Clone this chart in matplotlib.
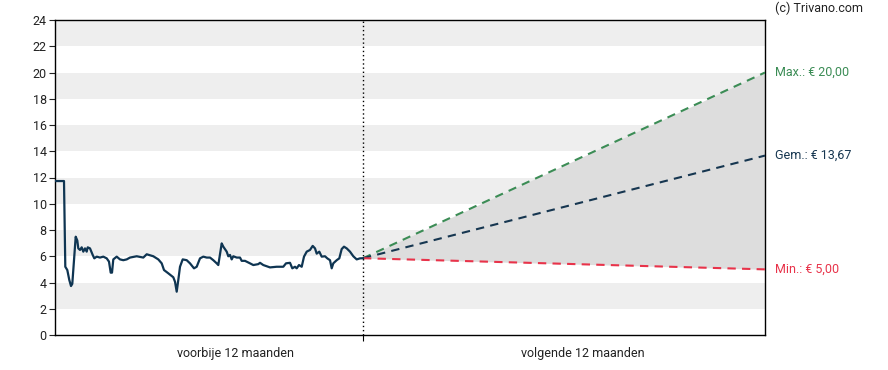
import numpy as np
import matplotlib.pyplot as plt

plt.rcParams['font.family'] = ['Roboto', 'DejaVu Sans']

# koers afgelopen 12 maanden: (positie, koers), positie 0 = begin van de grafiek
hist = [
    (1, 11.73), (9, 11.73), (10.3, 5.2), (12.3, 4.95), (14.3, 4.19), (16, 3.73),
    (17.3, 3.9), (20.7, 7.49), (22.3, 7.2), (23.3, 6.6), (25, 6.48), (26.7, 6.68),
    (28.3, 6.35), (30, 6.6), (31.7, 6.35), (32.7, 6.68), (35, 6.6), (37.7, 6.1),
    (39.3, 5.84), (41.7, 5.97), (45, 5.9), (48.3, 5.97), (51.7, 5.84), (54, 5.59),
    (55.7, 4.75), (57, 4.75), (58.3, 5.76), (61.7, 5.97), (65, 5.76), (68.3, 5.7),
    (71.7, 5.76), (75, 5.9), (81.7, 6.0), (88.3, 5.9), (91.7, 6.15), (98.3, 6.0),
    (103.3, 5.76), (106.7, 5.46), (109, 4.95), (113.3, 4.7), (118.3, 4.4), (120, 4.06),
    (121.7, 3.3), (123.3, 4.19), (125, 5.2), (127.7, 5.76), (131.7, 5.7), (135, 5.46),
    (139, 5.08), (141.7, 5.2), (145, 5.84), (148.3, 5.97), (151.7, 5.9), (155, 5.9),
    (158.3, 5.7), (161.7, 5.46), (163.3, 5.33), (166.7, 6.98), (168.3, 6.73),
    (171.7, 6.35), (173.3, 6.0), (175, 6.1), (176.7, 5.76), (178.3, 6.0), (181.7, 5.9),
    (185, 5.9), (186.7, 5.65), (190, 5.65), (195, 5.46), (198.3, 5.33), (203.3, 5.4),
    (205, 5.5), (208.3, 5.33), (215, 5.15), (221.7, 5.2), (228.3, 5.2), (231, 5.46),
    (235, 5.5), (237.3, 5.08), (240, 5.2), (241.7, 5.08), (244, 5.33), (246.7, 5.2),
    (249, 5.97), (251.7, 6.35), (255, 6.48), (257.7, 6.79), (260, 6.6), (261.7, 6.2),
    (264.3, 6.35), (266.7, 5.97), (270, 6.0), (272.3, 5.84), (275, 5.7), (276.7, 5.08),
    (278.3, 5.46), (281.7, 5.7), (284.3, 5.84), (286.7, 6.55), (289, 6.73), (291.7, 6.6),
    (295, 6.35), (298.3, 6.0), (301.7, 5.76), (305, 5.84), (308, 5.85),
]
hist_x = [p[0] for p in hist]
hist_y = [p[1] for p in hist]

# koersdoelen over 12 maanden
split_x = 308
end_x = 710
start_price = 5.85
target_max = 20.00
target_avg = 13.67
target_min = 5.00

period_labels = ["voorbije 12 maanden", "volgende 12 maanden"]
period_pos = [180, 528]

c_line = "#0f3552"
c_max = "#3b8c55"
c_avg = "#163650"
c_min = "#e8334a"

fig = plt.figure(figsize=(8.88, 3.70), dpi=100)
ax = fig.add_axes([55 / 888, 35 / 370, 710 / 888, 315 / 370])

# grijze banden
for lo in range(2, 24, 4):
    ax.axhspan(lo, lo + 2, color="#eeeeee", lw=0, zorder=0)

fx = [split_x, end_x]
ax.fill_between(fx, [start_price, target_min], [start_price, target_max],
                color="#dddddd", lw=0, zorder=1)
ax.plot(fx, [start_price, target_max], ls=(0, (4, 3)), color=c_max, lw=1.5, zorder=3)
ax.plot(fx, [start_price, target_avg], ls=(0, (4, 3)), color=c_avg, lw=1.5, zorder=3)
ax.plot(fx, [start_price, target_min], ls=(0, (4, 3)), color=c_min, lw=1.5, zorder=3)

ax.plot(hist_x, hist_y, color=c_line, lw=1.6, zorder=4)
ax.axvline(split_x, color="black", ls=(0, (1, 2)), lw=1, zorder=5)

ax.set_xlim(0, end_x)
ax.set_ylim(0, 24)
ax.set_yticks(range(0, 25, 2))
ax.set_xticks([split_x])
ax.set_xticklabels([""])
for p, lab in zip(period_pos, period_labels):
    ax.text(p, -0.9, lab, ha="center", va="top", fontsize=9, color="#222222")

ax.tick_params(axis="y", length=4, width=0.8, labelsize=9, colors="#222222", pad=2)
ax.tick_params(axis="x", length=4, width=0.8)
for s in ax.spines.values():
    s.set_color("black")
    s.set_linewidth(1)

lbl_x = end_x + 10
ax.text(lbl_x, target_max, "Max.: € 20,00", color=c_max, fontsize=9, va="center", clip_on=False)
ax.text(lbl_x, target_avg, "Gem.: € 13,67", color=c_avg, fontsize=9, va="center", clip_on=False)
ax.text(lbl_x, target_min, "Min.: € 5,00", color=c_min, fontsize=9, va="center", clip_on=False)
fig.text(775 / 888, 1 - 8 / 370, "(c) Trivano.com", fontsize=9, color="#222222", va="center")

fig.savefig("out.png", dpi=100)
